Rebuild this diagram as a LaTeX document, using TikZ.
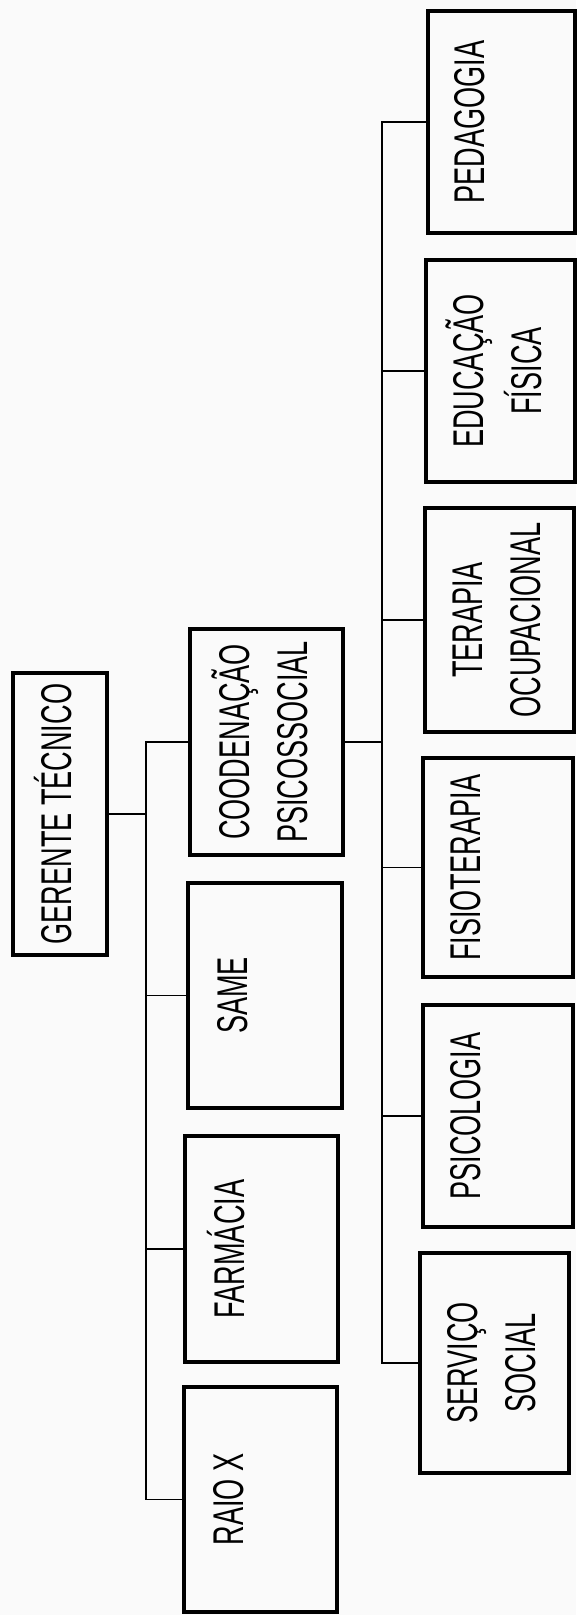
\documentclass[tikz,border=0pt]{standalone}
\usepackage{graphicx}
\usepackage{fontspec}
\setmainfont[FakeStretch=0.63]{Liberation Sans}
\newcommand\rlabel[1]{\rotatebox{90}{\begin{tabular}{@{}c@{}}#1\end{tabular}}}
\definecolor{bgcol}{HTML}{FAFAFA}
\begin{document}
\begin{tikzpicture}[x=1pt,y=-1pt,
  orgbox/.style={draw, line width=3.2pt, inner sep=0pt, rectangle,
    font=\fontsize{43}{58}\selectfont},
  conn/.style={line width=1.6pt}]
\fill[bgcol] (0,0) rectangle (576,1615);
\useasboundingbox (0,0) rectangle (576,1615);

% head
\node[orgbox, minimum width=94pt, minimum height=282pt] (ger) at (60,814) {\rlabel{GERENTE TÉCNICO}};

% left column
\node[orgbox, minimum width=153pt, minimum height=226pt] (coo) at (266.5,742) {\rlabel{COODENAÇÃO\\PSICOSSOCIAL}};
\node[orgbox, minimum width=154pt, minimum height=225pt] (same) at (265,995.5) {\rlabel{SAME\\ \mbox{}}};
\node[orgbox, minimum width=153pt, minimum height=226pt] (farm) at (261.5,1249) {\rlabel{FARMÁCIA\\ \mbox{}}};
\node[orgbox, minimum width=153pt, minimum height=225pt] (raio) at (260.5,1499.5) {\rlabel{RAIO X\\ \mbox{}}};

% right column
\node[orgbox, minimum width=147pt, minimum height=222pt] (ped) at (501.5,122) {\rlabel{PEDAGOGIA\\ \mbox{}}};
\node[orgbox, minimum width=149pt, minimum height=222pt] (edu) at (500.5,371) {\rlabel{EDUCAÇÃO\\FÍSICA}};
\node[orgbox, minimum width=149pt, minimum height=224pt] (ter) at (499.5,620) {\rlabel{TERAPIA\\OCUPACIONAL}};
\node[orgbox, minimum width=150pt, minimum height=219pt] (fis) at (498,867.5) {\rlabel{FISIOTERAPIA\\ \mbox{}}};
\node[orgbox, minimum width=150pt, minimum height=222pt] (psi) at (498,1116) {\rlabel{PSICOLOGIA\\ \mbox{}}};
\node[orgbox, minimum width=149pt, minimum height=220pt] (ser) at (494.5,1363) {\rlabel{SERVIÇO\\SOCIAL}};

% buses
\coordinate (busA) at (146,0);
\coordinate (busB) at (382,0);

\draw[conn] (ger.east) -- (ger.east -| busA);
\draw[conn] (coo.west) -- (coo.west -| busA) -- (raio.west -| busA) -- (raio.west);
\draw[conn] (same.west) -- (same.west -| busA);
\draw[conn] (farm.west) -- (farm.west -| busA);

\draw[conn] (coo.east) -- (coo.east -| busB);
\draw[conn] (ped.west) -- (ped.west -| busB) -- (ser.west -| busB) -- (ser.west);
\draw[conn] (edu.west) -- (edu.west -| busB);
\draw[conn] (ter.west) -- (ter.west -| busB);
\draw[conn] (fis.west) -- (fis.west -| busB);
\draw[conn] (psi.west) -- (psi.west -| busB);
\end{tikzpicture}
\end{document}
